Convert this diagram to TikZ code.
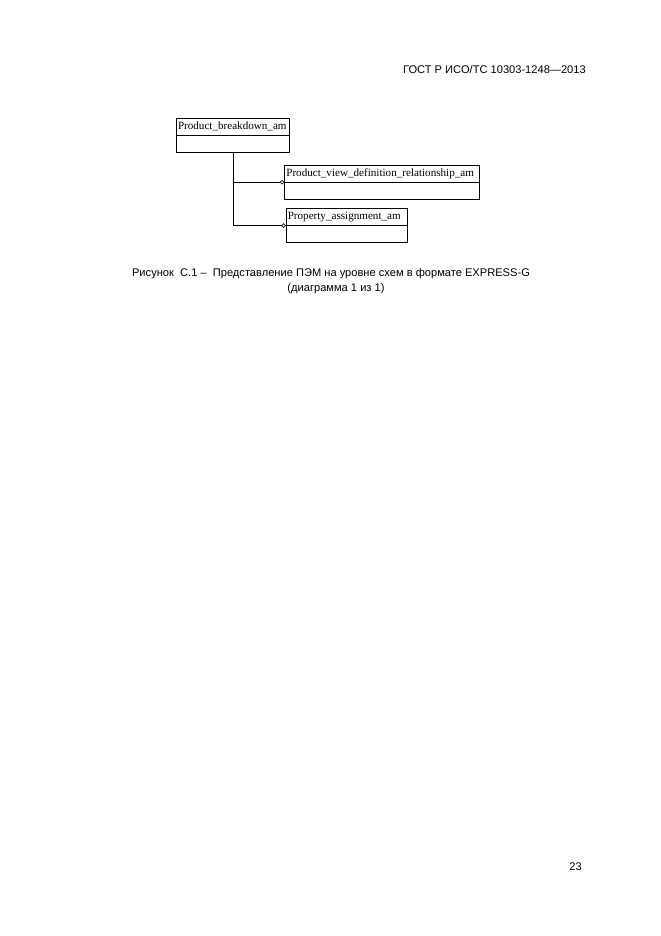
\documentclass[tikz,border=0pt]{standalone}
\usepackage{fontspec}
\setmainfont{Liberation Sans}
\newfontfamily\boxfont{Liberation Serif}
\usetikzlibrary{positioning,shapes.multipart,arrows.meta}

\newcommand\partstrut{\rule[-3.5pt]{0pt}{11.7pt}}

\tikzset{
	entity/.style={draw, line width=0.6pt, rectangle split, rectangle split parts=2,
		inner xsep=1.5pt, inner ysep=1.5pt, align=left,
		font=\boxfont\fontsize{10}{12}\selectfont},
	rel/.style={line width=0.6pt, -{Circle[open,length=4pt]}}
}

\begin{document}
\begin{tikzpicture}[x=0.9pt, y=-0.9pt, font=\fontsize{10}{12}\selectfont]
	\useasboundingbox[fill=white] (0,0) rectangle (661,936);

	% header and page number
	\node (hdr) [anchor=base east, inner sep=0pt] at (586,73.5) {ГОСТ Р ИСО/ТС 10303-1248—2013};
	\node (page) [anchor=base, inner sep=0pt] at (575.5,870) {23};

	% schema boxes
	\node (1) [entity, text width=99pt, anchor=north west] at (176,118)
		{\partstrut Product\_breakdown\_am \nodepart{second}\partstrut};
	\node (2) [entity, text width=172pt, below right=11pt and 97.5pt of 1.south west, anchor=north west]
		{\partstrut Product\_view\_definition\_relationship\_am \nodepart{second}\partstrut};
	\node (3) [entity, text width=106pt, below right=7.8pt and 1.3pt of 2.south west, anchor=north west]
		{\partstrut Property\_assignment\_am \nodepart{second}\partstrut};

	\coordinate (fork) at (1.south |- 2.text split west);
	\draw[rel] (1.south) |- (3.text split west);
	\draw[rel] (fork) -- (2.text split west);

	% caption
	\node (cap1) [anchor=base, inner sep=0pt] at (331,276)
		{Рисунок\ \ С.1 –\ \ Представление ПЭМ на уровне схем в формате EXPRESS-G};
	\node (cap2) [anchor=base, inner sep=0pt] at (336,291) {(диаграмма 1 из 1)};
\end{tikzpicture}
\end{document}
